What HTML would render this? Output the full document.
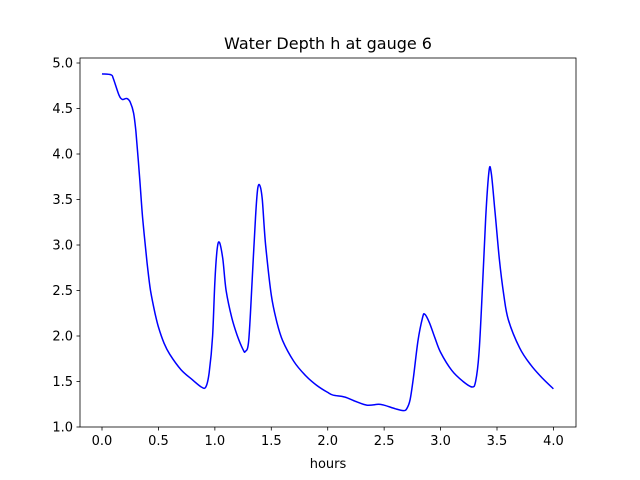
<!DOCTYPE html>
<html><head><meta charset="utf-8"><style>body{margin:0;background:#fff}svg{display:block;font-family:"DejaVu Sans","Liberation Sans",sans-serif}</style></head>
<body>
<svg id="c" width="640" height="480"></svg>
<script>
const xs=[0,0.08,0.1,0.15,0.18,0.22,0.25,0.28,0.3,0.33,0.36,0.4,0.43,0.47,0.5,0.55,0.6,0.7,0.8,0.88,0.92,0.95,0.98,1.0,1.02,1.04,1.07,1.1,1.15,1.2,1.25,1.27,1.3,1.33,1.36,1.38,1.4,1.42,1.45,1.5,1.55,1.6,1.7,1.8,1.9,2.0,2.05,2.15,2.25,2.35,2.45,2.5,2.6,2.67,2.7,2.73,2.76,2.8,2.84,2.86,2.9,2.95,3.0,3.1,3.2,3.28,3.31,3.34,3.37,3.4,3.43,3.45,3.48,3.52,3.56,3.6,3.7,3.8,3.9,4.0];
const ys=[4.88,4.87,4.83,4.65,4.6,4.61,4.57,4.45,4.25,3.8,3.3,2.8,2.5,2.25,2.1,1.92,1.8,1.63,1.52,1.44,1.44,1.6,2.0,2.6,2.95,3.03,2.85,2.5,2.2,2.0,1.85,1.83,1.95,2.6,3.3,3.62,3.65,3.5,3.0,2.45,2.15,1.95,1.72,1.57,1.46,1.38,1.35,1.33,1.28,1.24,1.25,1.24,1.2,1.18,1.2,1.3,1.55,1.95,2.2,2.24,2.15,1.98,1.82,1.62,1.5,1.44,1.5,1.8,2.5,3.3,3.82,3.78,3.4,2.85,2.45,2.18,1.87,1.68,1.54,1.42];
const xticks=[0,0.5,1,1.5,2,2.5,3,3.5,4];
const xtickLabels=["0.0","0.5","1.0","1.5","2.0","2.5","3.0","3.5","4.0"];
const yticks=[1,1.5,2,2.5,3,3.5,4,4.5,5];
const ytickLabels=["1.0","1.5","2.0","2.5","3.0","3.5","4.0","4.5","5.0"];
const L=80,R=576,T=58,B=427,x0=-0.195,x1=4.2,y0=1.0,y1=5.055;
const X=v=>L+(v-x0)/(x1-x0)*(R-L), Y=v=>B-(v-y0)/(y1-y0)*(B-T);
const s=document.getElementById('c'),NS='http://www.w3.org/2000/svg';
function mk(t,a,txt){const e=document.createElementNS(NS,t);for(const k in a)e.setAttribute(k,a[k]);if(txt!==undefined)e.textContent=txt;s.appendChild(e);return e;}
const P=xs.map((v,i)=>[X(v),Y(ys[i])]);
let d='M'+P[0][0].toFixed(1)+','+P[0][1].toFixed(1);
for(let i=0;i<P.length-1;i++){const p0=P[Math.max(0,i-1)],p1=P[i],p2=P[i+1],p3=P[Math.min(P.length-1,i+2)];
const c1=[p1[0]+(p2[0]-p0[0])/6,p1[1]+(p2[1]-p0[1])/6],c2=[p2[0]-(p3[0]-p1[0])/6,p2[1]-(p3[1]-p1[1])/6];
d+='C'+c1.map(n=>n.toFixed(1)).join(',')+' '+c2.map(n=>n.toFixed(1)).join(',')+' '+p2.map(n=>n.toFixed(1)).join(',');}
let p=mk('path',{d:d,fill:'none',stroke:'#0000ff','stroke-width':1.5,'stroke-linejoin':'round'});


let f=mk('rect',{x:L,y:T,width:R-L,height:B-T,fill:'none',stroke:'#000','stroke-width':0.8});


xticks.forEach((v,i)=>{const x=X(v);mk('line',{x1:x,x2:x,y1:B,y2:B+3.5,stroke:'#000','stroke-width':0.8});
const t=mk('text',{x:x,y:B+18,'font-size':13,'text-anchor':'middle'},xtickLabels[i]);

});
yticks.forEach((v,i)=>{const y=Y(v);mk('line',{x1:L-3.5,x2:L,y1:y,y2:y,stroke:'#000','stroke-width':0.8});
const t=mk('text',{x:L-7,y:y+4.5,'font-size':13,'text-anchor':'end'},ytickLabels[i]);

});
const ti=mk('text',{x:328,y:49,'font-size':16,'text-anchor':'middle'},'Water Depth h at gauge 6');


const xl=mk('text',{x:328,y:468,'font-size':13,'text-anchor':'middle'},'hours');


</script>
</body></html>
